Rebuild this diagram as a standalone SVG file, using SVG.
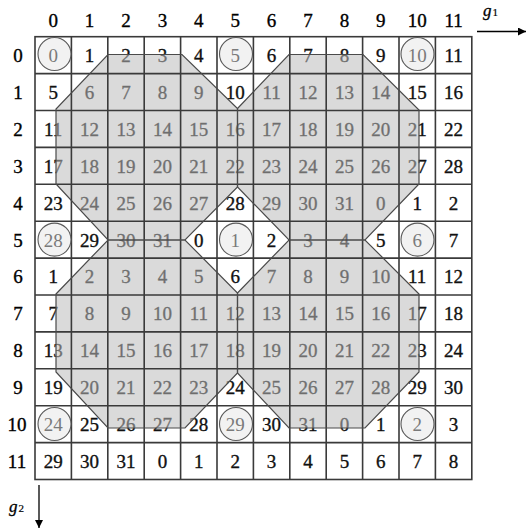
<svg xmlns="http://www.w3.org/2000/svg" width="526" height="529" viewBox="0 0 526 529">
<defs>
<style>
text{font-family:"Liberation Serif","Times New Roman",serif;text-anchor:middle}
.n{font-size:19px;fill:#111;stroke:#111;stroke-width:0.35}
.h{font-size:19px;fill:#000;stroke:#000;stroke-width:0.35}
.ci{font-size:19px;fill:#7a7a7a}
.ov{fill:#bcbcbc;fill-opacity:0.55;stroke:none}
.ol{fill:none;stroke:#4a4a4a;stroke-width:1.2}
.grid{fill:none;stroke:#3a3a3a;stroke-width:1.6}
.circ{fill:#f2f2f2;stroke:#5a5a5a;stroke-width:1.1}
.ax{stroke:#000;stroke-width:1.3;fill:none}
.g{font-style:italic;font-size:17px;text-anchor:start;stroke:#000;stroke-width:0.3}
.s{font-size:11px;text-anchor:start;stroke:#000;stroke-width:0.2}
</style>
<marker id="ah" viewBox="0 0 10 10" refX="10" refY="5" markerWidth="8" markerHeight="8" markerUnits="userSpaceOnUse" orient="auto">
<path d="M0,0 L10,5 L0,10 z" fill="#000"/>
</marker>
</defs>
<rect width="526" height="529" fill="#fff"/>
<g id="cells">
<g class="n">
<text x="89.6" y="62">1</text><text x="126" y="62">2</text><text x="162.4" y="62">3</text><text x="198.8" y="62">4</text><text x="271.6" y="62">6</text><text x="308" y="62">7</text><text x="344.4" y="62">8</text><text x="380.8" y="62">9</text><text x="453.6" y="62">11</text>
<text x="53.2" y="98.9">5</text><text x="89.6" y="98.9">6</text><text x="126" y="98.9">7</text><text x="162.4" y="98.9">8</text><text x="198.8" y="98.9">9</text><text x="235.2" y="98.9">10</text><text x="271.6" y="98.9">11</text><text x="308" y="98.9">12</text><text x="344.4" y="98.9">13</text><text x="380.8" y="98.9">14</text><text x="417.2" y="98.9">15</text><text x="453.6" y="98.9">16</text>
<text x="53.2" y="135.8">11</text><text x="89.6" y="135.8">12</text><text x="126" y="135.8">13</text><text x="162.4" y="135.8">14</text><text x="198.8" y="135.8">15</text><text x="235.2" y="135.8">16</text><text x="271.6" y="135.8">17</text><text x="308" y="135.8">18</text><text x="344.4" y="135.8">19</text><text x="380.8" y="135.8">20</text><text x="417.2" y="135.8">21</text><text x="453.6" y="135.8">22</text>
<text x="53.2" y="172.7">17</text><text x="89.6" y="172.7">18</text><text x="126" y="172.7">19</text><text x="162.4" y="172.7">20</text><text x="198.8" y="172.7">21</text><text x="235.2" y="172.7">22</text><text x="271.6" y="172.7">23</text><text x="308" y="172.7">24</text><text x="344.4" y="172.7">25</text><text x="380.8" y="172.7">26</text><text x="417.2" y="172.7">27</text><text x="453.6" y="172.7">28</text>
<text x="53.2" y="209.6">23</text><text x="89.6" y="209.6">24</text><text x="126" y="209.6">25</text><text x="162.4" y="209.6">26</text><text x="198.8" y="209.6">27</text><text x="235.2" y="209.6">28</text><text x="271.6" y="209.6">29</text><text x="308" y="209.6">30</text><text x="344.4" y="209.6">31</text><text x="380.8" y="209.6">0</text><text x="417.2" y="209.6">1</text><text x="453.6" y="209.6">2</text>
<text x="89.6" y="246.5">29</text><text x="126" y="246.5">30</text><text x="162.4" y="246.5">31</text><text x="198.8" y="246.5">0</text><text x="271.6" y="246.5">2</text><text x="308" y="246.5">3</text><text x="344.4" y="246.5">4</text><text x="380.8" y="246.5">5</text><text x="453.6" y="246.5">7</text>
<text x="53.2" y="283.4">1</text><text x="89.6" y="283.4">2</text><text x="126" y="283.4">3</text><text x="162.4" y="283.4">4</text><text x="198.8" y="283.4">5</text><text x="235.2" y="283.4">6</text><text x="271.6" y="283.4">7</text><text x="308" y="283.4">8</text><text x="344.4" y="283.4">9</text><text x="380.8" y="283.4">10</text><text x="417.2" y="283.4">11</text><text x="453.6" y="283.4">12</text>
<text x="53.2" y="320.3">7</text><text x="89.6" y="320.3">8</text><text x="126" y="320.3">9</text><text x="162.4" y="320.3">10</text><text x="198.8" y="320.3">11</text><text x="235.2" y="320.3">12</text><text x="271.6" y="320.3">13</text><text x="308" y="320.3">14</text><text x="344.4" y="320.3">15</text><text x="380.8" y="320.3">16</text><text x="417.2" y="320.3">17</text><text x="453.6" y="320.3">18</text>
<text x="53.2" y="357.2">13</text><text x="89.6" y="357.2">14</text><text x="126" y="357.2">15</text><text x="162.4" y="357.2">16</text><text x="198.8" y="357.2">17</text><text x="235.2" y="357.2">18</text><text x="271.6" y="357.2">19</text><text x="308" y="357.2">20</text><text x="344.4" y="357.2">21</text><text x="380.8" y="357.2">22</text><text x="417.2" y="357.2">23</text><text x="453.6" y="357.2">24</text>
<text x="53.2" y="394.1">19</text><text x="89.6" y="394.1">20</text><text x="126" y="394.1">21</text><text x="162.4" y="394.1">22</text><text x="198.8" y="394.1">23</text><text x="235.2" y="394.1">24</text><text x="271.6" y="394.1">25</text><text x="308" y="394.1">26</text><text x="344.4" y="394.1">27</text><text x="380.8" y="394.1">28</text><text x="417.2" y="394.1">29</text><text x="453.6" y="394.1">30</text>
<text x="89.6" y="431">25</text><text x="126" y="431">26</text><text x="162.4" y="431">27</text><text x="198.8" y="431">28</text><text x="271.6" y="431">30</text><text x="308" y="431">31</text><text x="344.4" y="431">0</text><text x="380.8" y="431">1</text><text x="453.6" y="431">3</text>
<text x="53.2" y="467.9">29</text><text x="89.6" y="467.9">30</text><text x="126" y="467.9">31</text><text x="162.4" y="467.9">0</text><text x="198.8" y="467.9">1</text><text x="235.2" y="467.9">2</text><text x="271.6" y="467.9">3</text><text x="308" y="467.9">4</text><text x="344.4" y="467.9">5</text><text x="380.8" y="467.9">6</text><text x="417.2" y="467.9">7</text><text x="453.6" y="467.9">8</text>
</g>
</g>
<g id="regions">
<polygon id="oct-tl" class="ov" points="108,54.5 182,54.5 237.5,108.5 237.5,187 185,240 108,240 56,184 56,109"/>
<polygon id="oct-tr" class="ov" points="237.5,108.5 289,54.5 363,54.5 419,110 419,184 365,240 289,240 237.5,187"/>
<polygon id="oct-bl" class="ov" points="56,294 108,240 185,240 237.5,293 237.5,373 185,428 108,428 56,372"/>
<polygon id="oct-br" class="ov" points="237.5,293 289,240 365,240 419,294 419,372 365,428 289,428 237.5,373"/>
</g>
<g id="grid">
<rect class="grid" x="35" y="36.7" width="436.8" height="442.8"/>
<path class="grid" d="M71.4,36.7V479.5M107.8,36.7V479.5M144.2,36.7V479.5M180.6,36.7V479.5M217,36.7V479.5M253.4,36.7V479.5M289.8,36.7V479.5M326.2,36.7V479.5M362.6,36.7V479.5M399,36.7V479.5M435.4,36.7V479.5M35,73.6H471.8M35,110.5H471.8M35,147.4H471.8M35,184.3H471.8M35,221.2H471.8M35,258.1H471.8M35,295H471.8M35,331.9H471.8M35,368.8H471.8M35,405.7H471.8M35,442.6H471.8"/>
</g>
<g id="outlines">
<polygon class="ol" points="108,54.5 182,54.5 237.5,108.5 237.5,187 185,240 108,240 56,184 56,109"/>
<polygon class="ol" points="237.5,108.5 289,54.5 363,54.5 419,110 419,184 365,240 289,240 237.5,187"/>
<polygon class="ol" points="56,294 108,240 185,240 237.5,293 237.5,373 185,428 108,428 56,372"/>
<polygon class="ol" points="237.5,293 289,240 365,240 419,294 419,372 365,428 289,428 237.5,373"/>
</g>
<g id="marked">
<g id="m0"><circle class="circ" cx="54.5" cy="54" r="16.5"/><text class="ci" x="53.2" y="62">0</text></g>
<g id="m5"><circle class="circ" cx="236" cy="54" r="16.5"/><text class="ci" x="235.2" y="62">5</text></g>
<g id="m10"><circle class="circ" cx="417.5" cy="54" r="16.5"/><text class="ci" x="417.2" y="62">10</text></g>
<g id="m28"><circle class="circ" cx="54.5" cy="239.6" r="16.5"/><text class="ci" x="53.2" y="246.5">28</text></g>
<g id="m1"><circle class="circ" cx="236" cy="239.6" r="16.5"/><text class="ci" x="235.2" y="246.5">1</text></g>
<g id="m6"><circle class="circ" cx="417.5" cy="239.6" r="16.5"/><text class="ci" x="417.2" y="246.5">6</text></g>
<g id="m24"><circle class="circ" cx="54.5" cy="424" r="16.5"/><text class="ci" x="53.2" y="431">24</text></g>
<g id="m29"><circle class="circ" cx="236" cy="424" r="16.5"/><text class="ci" x="235.2" y="431">29</text></g>
<g id="m2"><circle class="circ" cx="417.5" cy="424" r="16.5"/><text class="ci" x="417.2" y="431">2</text></g>
</g>
<g id="headers" class="h">
<text x="53.2" y="27">0</text><text x="89.6" y="27">1</text><text x="126" y="27">2</text><text x="162.4" y="27">3</text><text x="198.8" y="27">4</text><text x="235.2" y="27">5</text><text x="271.6" y="27">6</text><text x="308" y="27">7</text><text x="344.4" y="27">8</text><text x="380.8" y="27">9</text><text x="417.2" y="27">10</text><text x="453.6" y="27">11</text>
<text x="18" y="62">0</text><text x="18" y="98.9">1</text><text x="18" y="135.8">2</text><text x="18" y="172.7">3</text><text x="18" y="209.6">4</text><text x="18" y="246.5">5</text><text x="18" y="283.4">6</text><text x="18" y="320.3">7</text><text x="18" y="357.2">8</text><text x="18" y="394.1">9</text><text x="17" y="431">10</text><text x="17" y="467.9">11</text>
</g>
<g id="axes">
<line class="ax" x1="477" y1="31.5" x2="526" y2="31.5" marker-end="url(#ah)"/>
<text x="483" y="16" class="g">g</text><text x="492.5" y="16" class="s">1</text>
<line class="ax" x1="39" y1="485" x2="39" y2="528" marker-end="url(#ah)"/>
<text x="9" y="512" class="g">g</text><text x="18.5" y="512" class="s">2</text>
</g>
</svg>
